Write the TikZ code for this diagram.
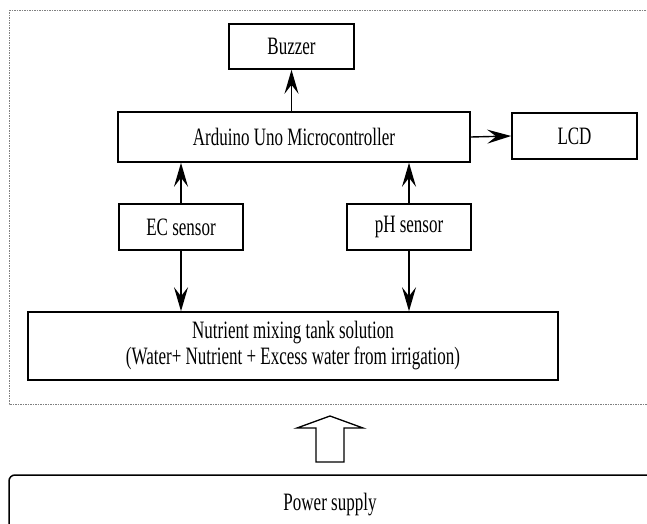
\documentclass[tikz,border=0pt]{standalone}
\usepackage{fontspec}
\setmainfont{Liberation Serif}[FakeStretch=0.68]
\usetikzlibrary{arrows.meta}
\begin{document}
\begin{tikzpicture}[x=1pt,y=-1pt,
  blk/.style={draw,line width=1.6pt,minimum width=#1,inner sep=0pt,font=\fontsize{25}{26}\selectfont,align=center},
  conn/.style={line width=1.4pt,-{Stealth[length=24pt,width=14pt,inset=9pt]}},
  frame/.style={draw=gray,line width=0.6pt,dash pattern=on 1.5pt off 1pt}]
\useasboundingbox (0,0) rectangle (647,524);
\clip (0,0) rectangle (647,524);
% dashed frame
\draw[frame] (9,10) -- (660,10);
\draw[frame] (9,10) -- (9,404) -- (660,404);
% blocks
\node[blk=125pt,minimum height=45pt] (buz) at (291.5,46.5) {Buzzer};
\node[blk=352pt,minimum height=50pt] (ard) at (294,137) {Arduino Uno Microcontroller};
\node[blk=125pt,minimum height=46pt] (lcd) at (574.5,136) {LCD};
\node[blk=124pt,minimum height=46pt] (ec) at (181,227) {EC sensor};
\node[blk=124pt,minimum height=46pt] (ph) at (409,227) {pH sensor};
\node[blk=530pt,minimum height=68pt] (tank) at (293,346) {Nutrient mixing tank solution\\(Water+ Nutrient + Excess water from irrigation)};
% connectors
\draw[conn] (ard.north -| buz.south) -- (buz.south);
\draw[conn] (ard.east) -- (lcd.west);
\draw[conn] (ec.north) -- (ec.north |- ard.south);
\draw[conn] (ph.north) -- (ph.north |- ard.south);
\draw[conn] (ec.south) -- (ec.south |- tank.north);
\draw[conn] (ph.south) -- (ph.south |- tank.north);
% power supply
\draw[line width=1.5pt,rounded corners=6pt] (660,560) -- (9,560) -- (9,475) -- (660,475);
\node[font=\fontsize{25}{26}\selectfont,inner sep=0pt] (pow) at (330,505) {Power supply};
\coordinate (tip) at (330,416);
\draw[line width=1.3pt,line join=miter] (tip) -- (297,428) -- (316,428) -- (316,462) -- (344,462) -- (344,428) -- (363,428) -- cycle;
\end{tikzpicture}
\end{document}
